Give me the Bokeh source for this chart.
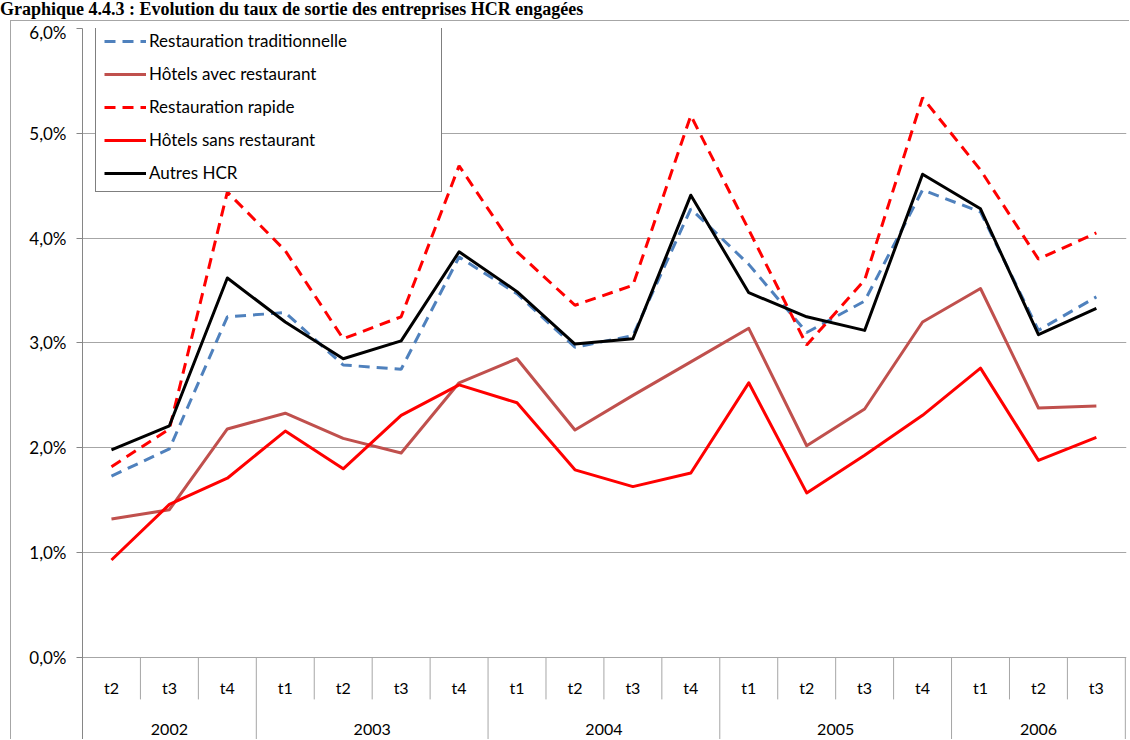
from bokeh.plotting import figure
from bokeh.models import Range1d, FixedTicker, Legend, LegendItem, Div
from bokeh.layouts import column
from bokeh.embed import file_html
from bokeh.resources import INLINE
from bokeh.core.properties import value

title_text = "Graphique 4.4.3 : Evolution du taux de sortie des entreprises HCR engagées"

years = ["2002", "2003", "2004", "2005", "2006"]
quarters_by_year = [["t2", "t3", "t4"],
                    ["t1", "t2", "t3", "t4"],
                    ["t1", "t2", "t3", "t4"],
                    ["t1", "t2", "t3", "t4"],
                    ["t1", "t2", "t3"]]

resto_trad = [1.73, 1.99, 3.25, 3.29, 2.79, 2.75, 3.82, 3.47, 2.96, 3.07, 4.28, 3.75, 3.10, 3.40, 4.46, 4.25, 3.12, 3.44]
hotels_avec = [1.32, 1.41, 2.18, 2.33, 2.09, 1.95, 2.62, 2.85, 2.17, 2.50, 2.82, 3.14, 2.02, 2.37, 3.20, 3.52, 2.38, 2.40]
resto_rapide = [1.82, 2.18, 4.44, 3.88, 3.04, 3.25, 4.69, 3.87, 3.36, 3.55, 5.17, 4.08, 2.98, 3.60, 5.34, 4.65, 3.80, 4.05]
hotels_sans = [0.93, 1.46, 1.71, 2.16, 1.80, 2.31, 2.60, 2.43, 1.79, 1.63, 1.76, 2.62, 1.57, 1.93, 2.31, 2.76, 1.88, 2.10]
autres_hcr = [1.98, 2.21, 3.62, 3.20, 2.85, 3.02, 3.87, 3.49, 2.99, 3.04, 4.41, 3.48, 3.25, 3.12, 4.61, 4.28, 3.08, 3.33]

series_names = ["Restauration traditionnelle", "Hôtels avec restaurant", "Restauration rapide",
                "Hôtels sans restaurant", "Autres HCR"]

y_ticks = [0, 1, 2, 3, 4, 5, 6]
y_tick_labels = ["0,0%", "1,0%", "2,0%", "3,0%", "4,0%", "5,0%", "6,0%"]

# derived positions
quarters = [q for qs in quarters_by_year for q in qs]
n = len(quarters)
xs = [i + 0.5 for i in range(n)]
bounds = [0]
for qs in quarters_by_year:
    bounds.append(bounds[-1] + len(qs))
year_centers = [(bounds[i] + bounds[i + 1]) / 2 for i in range(len(years))]
inner_bounds = [k for k in range(1, n) if k not in bounds]

Y_MIN = -0.792
FONT = "Lato"

p = figure(width=1119, height=719,
           x_range=Range1d(0, 18.02), y_range=Range1d(Y_MIN, 6.0),
           output_backend="svg", toolbar_location=None, x_axis_location=None,
           min_border_left=71, min_border_right=4, min_border_top=7, min_border_bottom=0,
           outline_line_color=None, background_fill_color="white", border_fill_color="white")
p.styles = {"border-left": "1px solid #a6a6a6", "border-top": "1px solid #a6a6a6", "margin-left": "10px"}

p.xgrid.visible = False
p.ygrid.grid_line_color = "#a6a6a6"
p.ygrid.grid_line_width = 1

ax = p.yaxis[0]
ax.ticker = FixedTicker(ticks=y_ticks)
ax.major_label_overrides = {t: l for t, l in zip(y_ticks, y_tick_labels)}
ax.axis_line_color = "#868686"
ax.major_tick_line_color = "#868686"
ax.major_tick_out = 6
ax.major_tick_in = 0
ax.minor_tick_line_color = None
ax.major_label_standoff = 10
ax.major_label_text_font = FONT
ax.major_label_text_font_size = "17px"
ax.major_label_text_color = "#000000"

# category axis drawn below zero
p.segment(x0=inner_bounds, y0=[0] * len(inner_bounds), x1=inner_bounds, y1=[-0.40] * len(inner_bounds),
          line_color="#a6a6a6", line_width=1)
p.segment(x0=bounds, y0=[0] * len(bounds), x1=bounds, y1=[Y_MIN] * len(bounds),
          line_color="#a6a6a6", line_width=1)
p.text(x=xs, y=[-0.286] * n, text=quarters, text_font=value(FONT), text_font_size="16px",
       text_align="center", text_baseline="middle", text_color="#000000")
p.text(x=year_centers, y=[-0.69] * len(years), text=years, text_font=value(FONT), text_font_size="16px",
       text_align="center", text_baseline="middle", text_color="#000000")

r1 = p.line(xs, resto_trad, line_color="#4F81BD", line_width=3, line_dash="11 7")
r2 = p.line(xs, hotels_avec, line_color="#C0504D", line_width=3, line_join="round")
r3 = p.line(xs, resto_rapide, line_color="#FF0000", line_width=3, line_dash="11 7")
r4 = p.line(xs, hotels_sans, line_color="#FF0000", line_width=3, line_join="round")
r5 = p.line(xs, autres_hcr, line_color="#000000", line_width=3, line_join="round")

legend = Legend(items=[LegendItem(label=nm, renderers=[r]) for nm, r in zip(series_names, [r1, r2, r3, r4, r5])],
                location=(13, 548), margin=0, padding=8, spacing=12,
                glyph_width=42, glyph_height=20, label_height=20, label_width=284, label_standoff=3,
                label_text_font=FONT, label_text_font_size="17px", label_text_color="#000000",
                border_line_color="#000000", border_line_width=1,
                background_fill_color="white", background_fill_alpha=1.0)
p.add_layout(legend)

title = Div(text=title_text, width=1130, height=20, margin=(0, 0, 0, 0),
            styles={"font-family": "Liberation Serif", "font-weight": "bold", "font-size": "18px",
                    "line-height": "19px", "white-space": "nowrap", "overflow": "visible"})

layout = column(title, p, spacing=0)
open("out.html", "w").write(file_html(layout, INLINE))
